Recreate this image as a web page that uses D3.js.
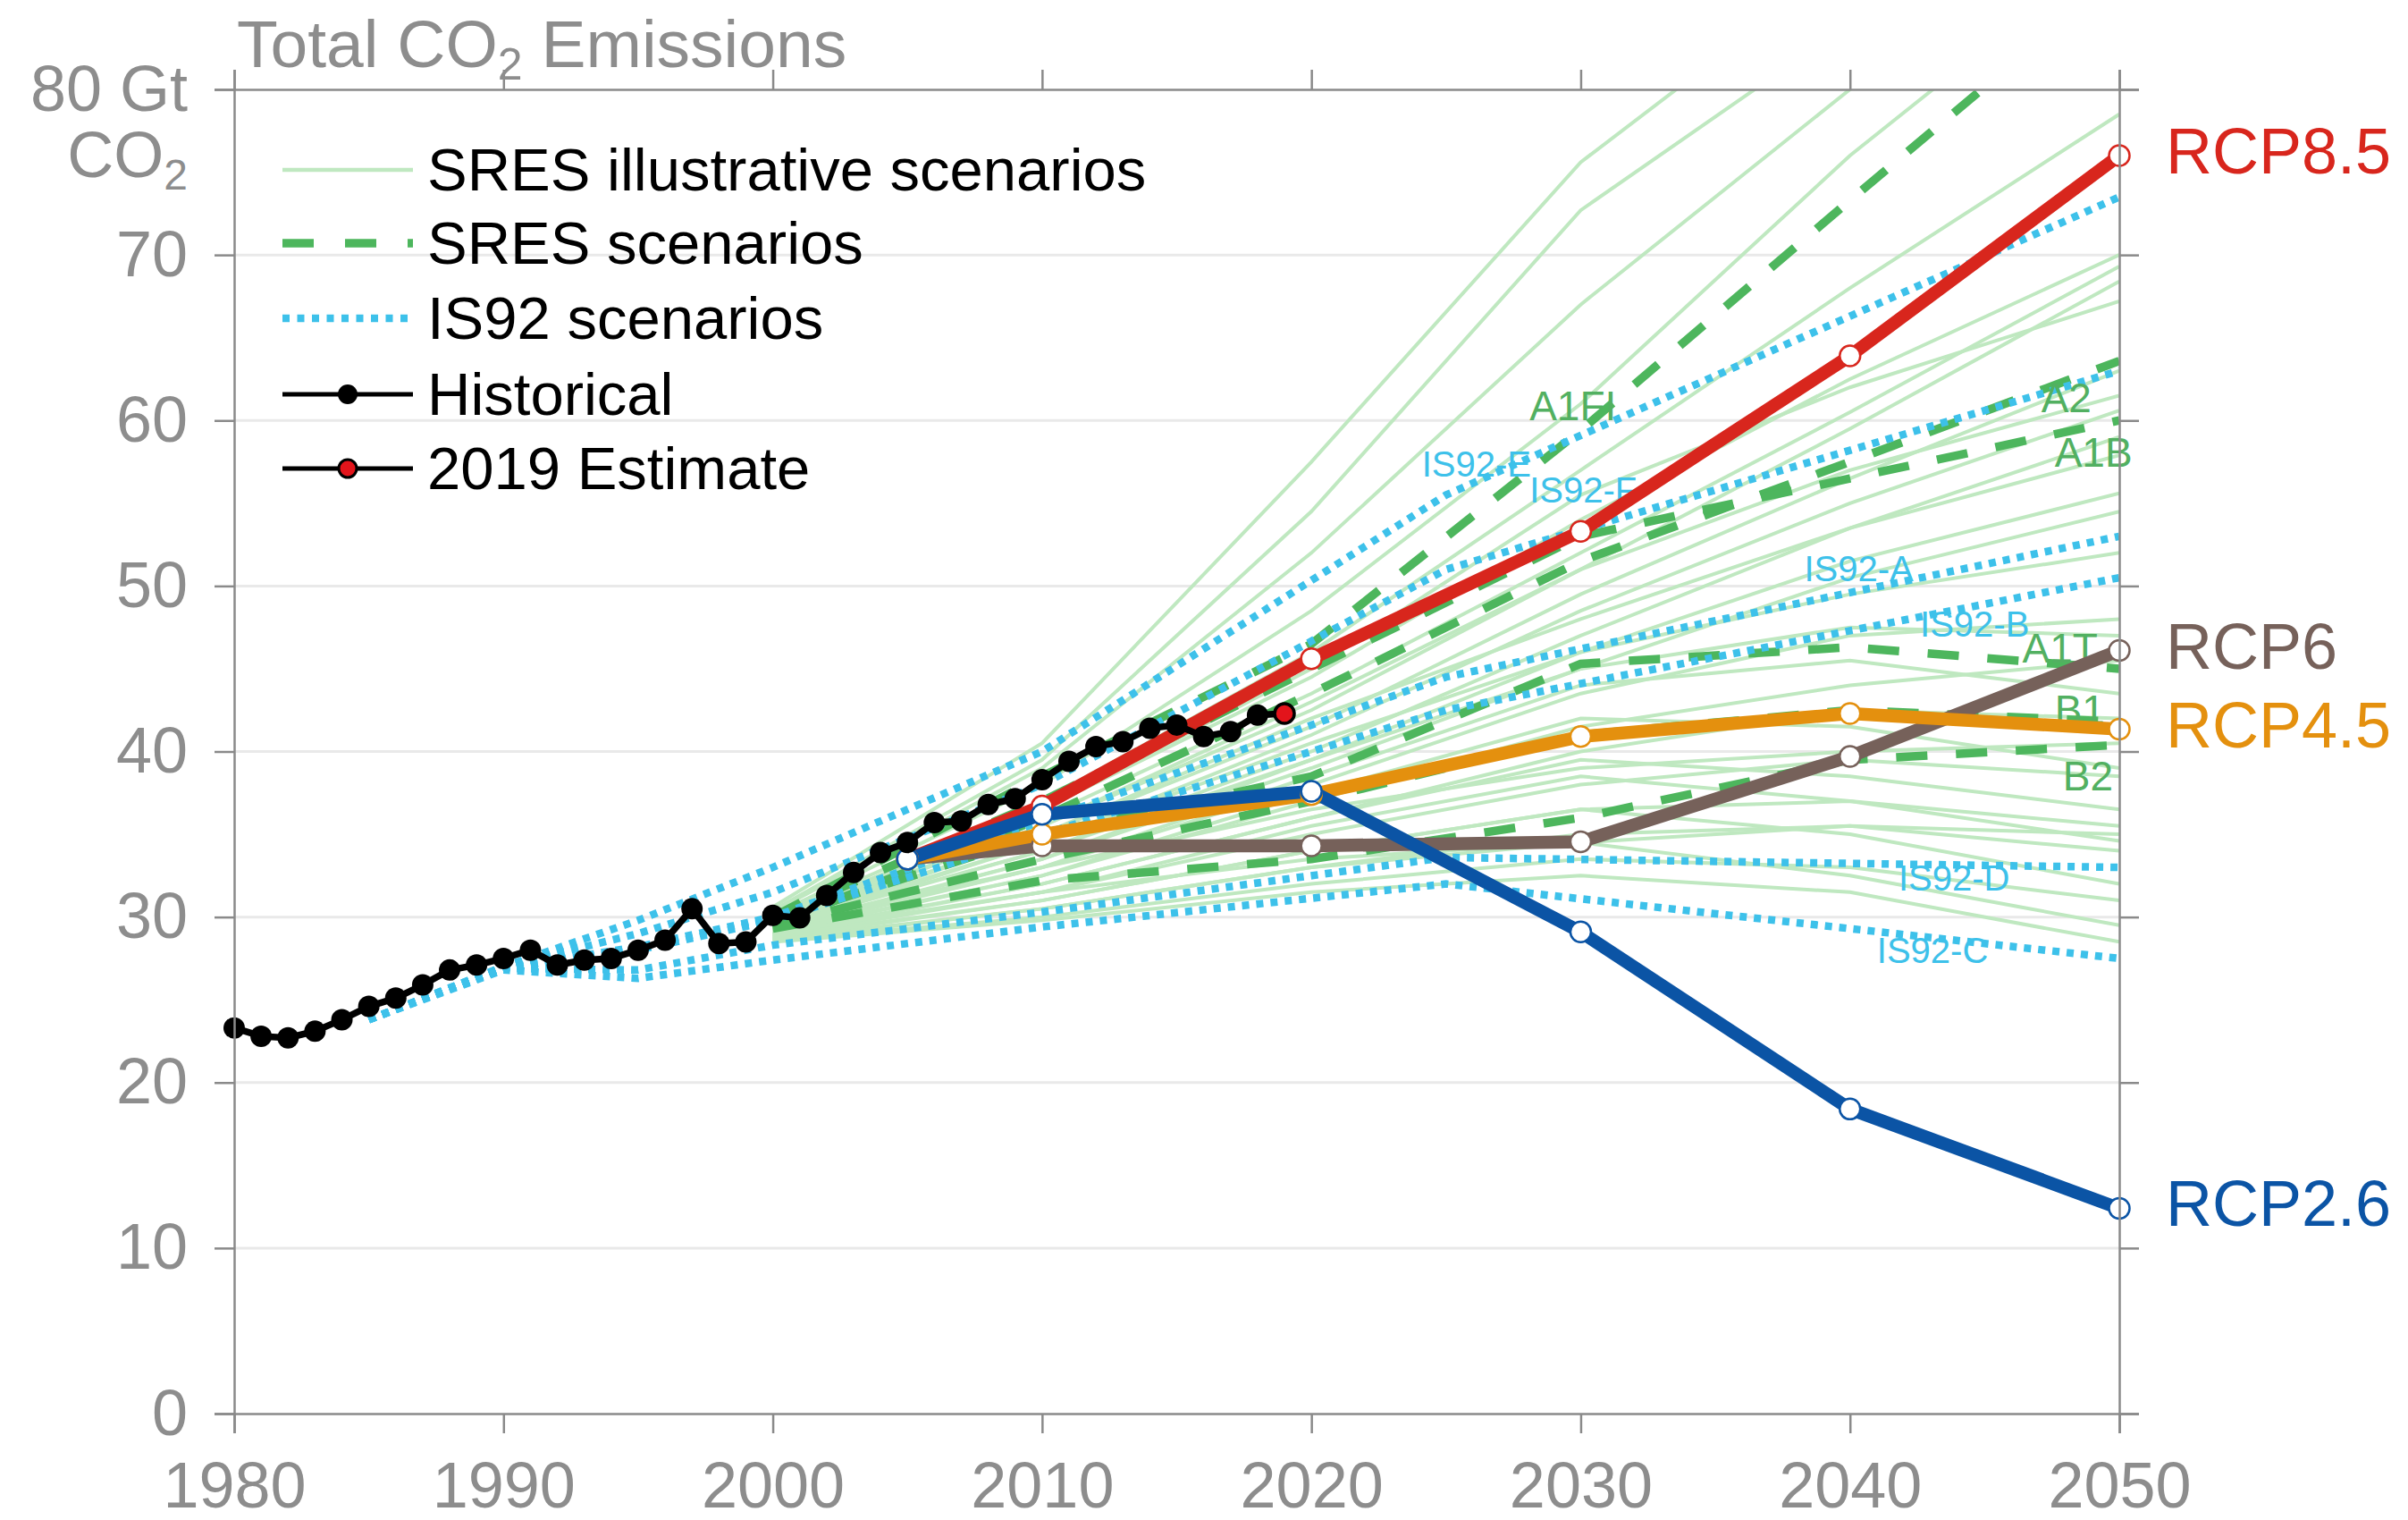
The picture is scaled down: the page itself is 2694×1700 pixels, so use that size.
<!DOCTYPE html>
<html>
<head>
<meta charset="utf-8">
<script src="https://cdn.jsdelivr.net/npm/d3@7"></script>
<style>
  html, body { margin: 0; padding: 0; background: #ffffff; }
  svg { display: block; font-family: "Liberation Sans", Arial, Helvetica, sans-serif; }
</style>
</head>
<body>
<svg id="chart" width="2694" height="1700"></svg>
<script>
// ---------------- data (Gt CO2 per year) ----------------
const xTicks = [1980, 1990, 2000, 2010, 2020, 2030, 2040, 2050];
const yTicks = [0, 10, 20, 30, 40, 50, 60, 70, 80];

// Historical total CO2 emissions 1980-2018, plus the 2019 estimate
const histYears = d3.range(1980, 2019);
const histValues = [23.3, 22.8, 22.7, 23.1, 23.8, 24.6, 25.1, 25.9, 26.8, 27.1,
                    27.5, 28.0, 27.1, 27.4, 27.5, 28.0, 28.6, 30.5, 28.4, 28.5,
                    30.1, 29.95, 31.3, 32.7, 33.9, 34.5, 35.7, 35.8, 36.8, 37.15,
                    38.3, 39.4, 40.3, 40.6, 41.4, 41.6, 40.9, 41.2, 42.2];
const estimateYear = 2019;
const estimateValue = 42.3;

// RCP pathways
const rcpYears = [2005, 2010, 2020, 2030, 2040, 2050];
const rcpNames = ["RCP8.5", "RCP6", "RCP4.5", "RCP2.6"];
const rcp85 = [33.5, 36.7, 45.6, 53.3, 63.9, 76.0];
const rcp6  = [33.5, 34.3, 34.3, 34.55, 39.7, 46.1];
const rcp45 = [33.5, 35.0, 37.4, 40.9, 42.3, 41.35];
const rcp26 = [33.5, 36.2, 37.6, 29.1, 18.4, 12.4];

// SRES marker scenarios
const sresYears = [2000, 2010, 2020, 2030, 2040, 2050];
const sresMarkerNames = ["A1FI", "A2", "A1B", "A1T", "B1", "B2"];
const sresA1FI = [30.0, 38.5, 46.5, 59.4, 73.3, 87.0];
const sresA2   = [29.5, 36.0, 43.5, 51.5, 57.5, 63.6];
const sresA1B  = [30.0, 37.0, 45.0, 53.0, 56.5, 60.0];
const sresA1T  = [29.8, 35.0, 38.5, 45.3, 46.3, 45.0];
const sresB1   = [29.5, 33.5, 37.0, 41.0, 42.5, 41.8];
const sresB2   = [29.3, 32.2, 33.5, 36.0, 39.5, 40.4];

// SRES illustrative scenarios
const sresIllustrative = [
  [30.6, 40.5, 57.5, 75.6, 88.0, 100.0],
  [30.4, 39.5, 54.5, 72.7, 84.0, 95.0],
  [30.3, 39.0, 52.0, 67.0, 80.0, 93.0],
  [30.1, 38.0, 48.5, 61.0, 76.0, 89.0],
  [30.0, 37.0, 46.0, 57.0, 68.0, 78.5],
  [29.9, 36.5, 44.5, 54.0, 62.5, 70.0],
  [29.8, 36.0, 43.5, 52.0, 60.5, 69.3],
  [29.8, 35.5, 42.5, 51.0, 59.5, 68.4],
  [29.7, 36.5, 45.0, 55.5, 62.0, 67.2],
  [29.6, 35.0, 41.5, 49.5, 56.5, 63.0],
  [29.6, 35.5, 43.0, 51.0, 57.0, 61.5],
  [29.5, 34.5, 41.0, 48.5, 55.0, 60.6],
  [29.5, 34.0, 40.0, 47.0, 53.5, 59.0],
  [29.4, 35.0, 42.0, 48.0, 53.5, 57.9],
  [29.4, 34.0, 39.5, 46.0, 51.5, 55.6],
  [29.3, 33.5, 39.0, 45.0, 50.5, 54.5],
  [29.3, 34.5, 40.5, 46.0, 49.5, 52.0],
  [29.2, 33.0, 38.0, 43.5, 47.0, 48.0],
  [29.2, 33.5, 39.5, 45.0, 47.5, 47.0],
  [29.1, 32.5, 37.0, 41.5, 44.0, 45.5],
  [29.1, 33.0, 38.5, 44.0, 45.5, 43.5],
  [29.0, 32.0, 36.0, 40.0, 42.5, 42.0],
  [29.0, 32.5, 37.5, 42.0, 41.5, 39.0],
  [28.9, 31.5, 35.0, 38.0, 39.5, 38.5],
  [28.9, 32.0, 36.0, 39.5, 38.5, 36.5],
  [28.8, 31.0, 34.0, 36.5, 37.0, 35.5],
  [28.8, 31.5, 35.5, 38.5, 37.0, 34.6],
  [28.7, 30.5, 33.0, 35.0, 35.5, 34.0],
  [28.7, 31.0, 34.0, 36.5, 35.0, 32.0],
  [28.6, 30.0, 32.0, 33.5, 33.0, 31.0],
  [28.6, 30.5, 33.0, 34.5, 32.5, 29.5],
  [28.5, 29.8, 31.5, 32.5, 31.5, 28.5],
  [29.0, 31.5, 33.5, 34.5, 35.5, 35.0],
  [29.5, 33.0, 36.5, 39.0, 40.0, 40.5]
];

// IS92 scenarios
const is92Years = [1985, 1990, 1995, 2000, 2010, 2025, 2050];
const is92Names = ["IS92-E", "IS92-F", "IS92-A", "IS92-B", "IS92-D", "IS92-C"];
const is92E = [23.8, 27.0, 29.8, 33.0, 40.0, 55.5, 73.5];
const is92F = [23.8, 27.0, 29.0, 31.5, 38.0, 51.0, 63.0];
const is92A = [23.8, 26.9, 28.2, 30.0, 35.8, 44.5, 53.0];
const is92B = [23.8, 26.9, 28.0, 29.8, 35.0, 42.5, 50.5];
const is92D = [23.8, 26.9, 26.8, 28.3, 30.3, 33.6, 33.0];
const is92C = [23.8, 26.8, 26.3, 27.4, 29.4, 32.0, 27.5];

// Where the scenario names sit (year, Gt CO2 at the text baseline)
const sresLabelAt = [[2028.1, 60.0], [2047.1, 60.5], [2047.6, 57.2], [2046.4, 45.4], [2047.6, 41.65], [2047.9, 37.65]];
const is92LabelAt = [[2024.1, 56.6], [2028.1, 55.05], [2038.3, 50.3], [2042.6, 46.95], [2041.8, 31.6], [2041.0, 27.2]];

// ---------------- styles ----------------
const rcpColors = ["#d8261d", "#76615a", "#e4900e", "#0b54a5"];
const sresLight = "#bfe8c0";
const sresGreen = "#4db65d";
const sresText = "#52b061";
const is92Color = "#3dc1ea";
const axisGrey = "#8a8a8a";
const labelGrey = "#8d8d8d";

const svg = d3.select("#chart");
svg.append("rect").attr("width", 2694).attr("height", 1700).attr("fill", "#ffffff");

const x = d3.scaleLinear().domain([1980, 2050]).range([262, 2371]);
const y = d3.scaleLinear().domain([0, 80]).range([1581, 100]);

// clip region for the scenario lines
svg.append("defs").append("clipPath").attr("id", "plotClip")
  .append("rect")
  .attr("x", x(1980)).attr("y", y(80))
  .attr("width", x(2050) - x(1980)).attr("height", y(0) - y(80));

// horizontal grid
svg.append("g").selectAll("line")
  .data(yTicks.filter(d => d > 0 && d < 80))
  .join("line")
  .attr("x1", x(1980)).attr("x2", x(2050))
  .attr("y1", d => y(d)).attr("y2", d => y(d))
  .attr("stroke", "#e9e9e9").attr("stroke-width", 3);

const lineOf = years => d3.line().x((d, i) => x(years[i])).y(d => y(d));

const plot = svg.append("g").attr("clip-path", "url(#plotClip)");

// SRES illustrative (thin light green)
plot.append("g").selectAll("path")
  .data(sresIllustrative)
  .join("path")
  .attr("d", lineOf(sresYears))
  .attr("fill", "none")
  .attr("stroke", sresLight)
  .attr("stroke-width", 4);

// SRES marker scenarios (dashed)
const sresMarkers = [sresA1FI, sresA2, sresA1B, sresA1T, sresB1, sresB2];
plot.append("g").selectAll("path")
  .data(sresMarkers)
  .join("path")
  .attr("d", lineOf(sresYears))
  .attr("fill", "none")
  .attr("stroke", sresGreen)
  .attr("stroke-width", 9.5)
  .attr("stroke-dasharray", "35,32");

// IS92 scenarios (dotted)
const is92Series = [is92E, is92F, is92A, is92B, is92D, is92C];
plot.append("g").selectAll("path")
  .data(is92Series)
  .join("path")
  .attr("d", lineOf(is92Years))
  .attr("fill", "none")
  .attr("stroke", is92Color)
  .attr("stroke-width", 8.5)
  .attr("stroke-dasharray", "8,8");

// scenario name labels
svg.append("g").selectAll("text")
  .data(sresMarkerNames)
  .join("text")
  .attr("x", (d, i) => x(sresLabelAt[i][0]))
  .attr("y", (d, i) => y(sresLabelAt[i][1]))
  .attr("font-size", 46)
  .attr("fill", sresText)
  .text(d => d);

svg.append("g").selectAll("text")
  .data(is92Names)
  .join("text")
  .attr("x", (d, i) => x(is92LabelAt[i][0]))
  .attr("y", (d, i) => y(is92LabelAt[i][1]))
  .attr("font-size", 40)
  .attr("fill", is92Color)
  .text(d => d);

// RCP pathways
const rcpSeries = [rcp85, rcp6, rcp45, rcp26];
const drawOrder = [0, 1, 2, 3];
const rcpG = svg.append("g");
drawOrder.forEach(k => {
  rcpG.append("path")
    .attr("d", lineOf(rcpYears)(rcpSeries[k]))
    .attr("fill", "none")
    .attr("stroke", rcpColors[k])
    .attr("stroke-width", 14.5)
    .attr("stroke-linejoin", "round");
});
drawOrder.forEach(k => {
  rcpG.append("g").selectAll("circle")
    .data(rcpSeries[k])
    .join("circle")
    .attr("cx", (d, i) => x(rcpYears[i]))
    .attr("cy", d => y(d))
    .attr("r", 11.5)
    .attr("fill", "#ffffff")
    .attr("stroke", rcpColors[k])
    .attr("stroke-width", 2.5);
});

// RCP names at the right
svg.append("g").selectAll("text")
  .data(rcpNames)
  .join("text")
  .attr("x", x(2050) + 52)
  .attr("y", (d, i) => y(rcpSeries[i][rcpSeries[i].length - 1]) + 20)
  .attr("font-size", 72)
  .attr("fill", (d, i) => rcpColors[i])
  .text(d => d);

// Historical emissions
const histG = svg.append("g");
histG.append("path")
  .attr("d", lineOf(histYears.concat([estimateYear]))(histValues.concat([estimateValue])))
  .attr("fill", "none")
  .attr("stroke", "#000000")
  .attr("stroke-width", 7.5)
  .attr("stroke-linejoin", "round");
histG.append("g").selectAll("circle")
  .data(histValues)
  .join("circle")
  .attr("cx", (d, i) => x(histYears[i]))
  .attr("cy", d => y(d))
  .attr("r", 12)
  .attr("fill", "#000000");
histG.append("circle")
  .attr("cx", x(estimateYear))
  .attr("cy", y(estimateValue))
  .attr("r", 11)
  .attr("fill", "#e3141b")
  .attr("stroke", "#000000")
  .attr("stroke-width", 3.5);

// ---------------- axes ----------------
function styleAxis(g) {
  g.select(".domain").attr("stroke", axisGrey).attr("stroke-width", 2.5);
  g.selectAll(".tick line").attr("stroke", axisGrey).attr("stroke-width", 2.5);
  g.selectAll(".tick text").attr("fill", labelGrey).attr("font-size", 72)
    .attr("font-family", "'Liberation Sans', Arial, sans-serif");
}

svg.append("g")
  .attr("transform", `translate(${x(1980)},0)`)
  .call(d3.axisLeft(y).tickValues(yTicks).tickSize(22).tickPadding(30)
    .tickFormat(d => d === 80 ? "80 Gt" : String(d)))
  .call(styleAxis);

svg.append("g")
  .attr("transform", `translate(${x(2050)},0)`)
  .call(d3.axisRight(y).tickValues(yTicks).tickSize(22).tickFormat(""))
  .call(styleAxis);

svg.append("g")
  .attr("transform", `translate(0,${y(0)})`)
  .call(d3.axisBottom(x).tickValues(xTicks).tickSize(22).tickPadding(32)
    .tickFormat(d3.format("d")))
  .call(styleAxis);

svg.append("g")
  .attr("transform", `translate(0,${y(80)})`)
  .call(d3.axisTop(x).tickValues(xTicks).tickSize(22).tickFormat(""))
  .call(styleAxis);

// unit line under the top tick label
const unit = svg.append("text")
  .attr("x", x(1980) - 52)
  .attr("y", y(80) + 98)
  .attr("text-anchor", "end")
  .attr("font-size", 72)
  .attr("fill", labelGrey);
unit.append("tspan").text("CO");
unit.append("tspan").attr("font-size", 48).attr("dy", 14).text("2");

// title
const title = svg.append("text")
  .attr("x", x(1980) + 3)
  .attr("y", 75)
  .attr("font-size", 75)
  .attr("fill", labelGrey);
title.append("tspan").text("Total CO");
title.append("tspan").attr("font-size", 50).attr("dy", 14).text("2");
title.append("tspan").attr("dy", -14).text(" Emissions");

// ---------------- legend ----------------
const legendItems = ["SRES illustrative scenarios", "SRES scenarios", "IS92 scenarios", "Historical", "2019 Estimate"];
const legendRowY = [190, 272, 356, 441, 524];
const lg = svg.append("g");
const lx0 = 316, lx1 = 462;

legendItems.forEach((name, i) => {
  const cy = legendRowY[i];
  const ln = lg.append("line")
    .attr("x1", lx0).attr("x2", lx1).attr("y1", cy).attr("y2", cy);
  if (i === 0) ln.attr("stroke", sresLight).attr("stroke-width", 4.5);
  if (i === 1) ln.attr("stroke", sresGreen).attr("stroke-width", 9.5).attr("stroke-dasharray", "35,35");
  if (i === 2) ln.attr("stroke", is92Color).attr("stroke-width", 8.5).attr("stroke-dasharray", "8,8.5");
  if (i >= 3) {
    ln.attr("stroke", "#000000").attr("stroke-width", 5);
    lg.append("circle")
      .attr("cx", (lx0 + lx1) / 2).attr("cy", cy)
      .attr("r", i === 3 ? 11 : 10)
      .attr("fill", i === 3 ? "#000000" : "#e3141b")
      .attr("stroke", "#000000").attr("stroke-width", i === 3 ? 0 : 3);
  }
  lg.append("text")
    .attr("x", 478).attr("y", cy + 23)
    .attr("font-size", 67)
    .attr("fill", "#000000")
    .text(name);
});
</script>
</body>
</html>
